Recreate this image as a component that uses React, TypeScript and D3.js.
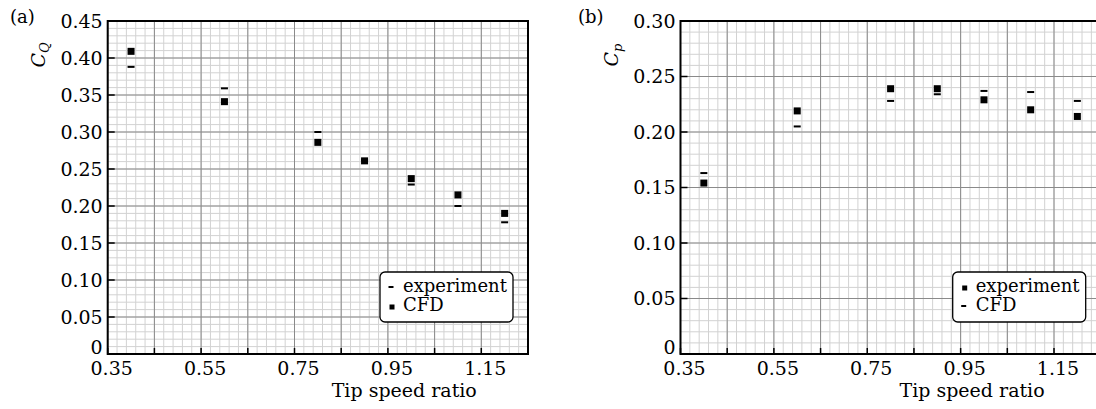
import React from 'react';
import * as d3 from 'd3';

// tip speed ratios shared by both panels
const tsr = [0.4, 0.6, 0.8, 0.9, 1.0, 1.1, 1.2];

// (a) torque coefficient
const cqExperiment = [0.388, 0.359, 0.300, 0.262, 0.229, 0.200, 0.178];
const cqCfd = [0.409, 0.341, 0.286, 0.261, 0.237, 0.215, 0.190];

// (b) power coefficient
const cpExperiment = [0.154, 0.219, 0.239, 0.239, 0.229, 0.220, 0.214];
const cpCfd = [0.163, 0.205, 0.228, 0.234, 0.237, 0.236, 0.228];

const xTickLabels = [0.35, 0.55, 0.75, 0.95, 1.15];

const FONT = '"DejaVu Serif", serif';

function Square({ cx, cy, s }) {
  return <rect x={cx - s / 2} y={cy - s / 2} width={s} height={s} fill="#000" />;
}

function Dash({ cx, cy, w }) {
  return <rect x={cx - w / 2} y={cy - 1} width={w} height={2} fill="#000" />;
}

function Panel(props) {
  const { left, right, top, bottom, yMax, tag, tagX, sub, titleX, squares, dashes, legend } = props;
  const x = d3.scaleLinear().domain([0.35, 1.25]).range([left, right]);
  const y = d3.scaleLinear().domain([0, yMax]).range([bottom, top]);

  const eps = 1e-9;
  const minorX = d3.range(0.35, 1.25 + eps, 0.02);
  const majorX = d3.range(0.35, 1.25 + eps, 0.1);
  const minorY = d3.range(0, yMax + eps, 0.01);
  const majorY = d3.range(0, yMax + eps, 0.05);

  const legRight = right - 15;
  const legLeft = legRight - 133;
  const legTop = bottom - 82;
  const legBottom = bottom - 32;

  return (
    <g fontFamily={FONT}>
      {minorX.map((v, i) => (
        <line key={'mx' + i} x1={x(v)} x2={x(v)} y1={top} y2={bottom} stroke="#d2d2d2" strokeWidth={1} />
      ))}
      {minorY.map((v, i) => (
        <line key={'my' + i} x1={left} x2={right} y1={y(v)} y2={y(v)} stroke="#d2d2d2" strokeWidth={1} />
      ))}
      {majorX.map((v, i) => (
        <line key={'Mx' + i} x1={x(v)} x2={x(v)} y1={top} y2={bottom} stroke="#8a8a8a" strokeWidth={1} />
      ))}
      {majorY.map((v, i) => (
        <line key={'My' + i} x1={left} x2={right} y1={y(v)} y2={y(v)} stroke="#8a8a8a" strokeWidth={1} />
      ))}

      {/* ticks */}
      {majorX.map((v, i) => (
        <line key={'tx' + i} x1={x(v)} x2={x(v)} y1={bottom} y2={bottom - 6} stroke="#000" strokeWidth={1.5} />
      ))}
      {majorY.map((v, i) => (
        <line key={'ty' + i} x1={left} x2={left + 7} y1={y(v)} y2={y(v)} stroke="#000" strokeWidth={1.5} />
      ))}

      <rect x={left} y={top} width={right - left} height={bottom - top} fill="none" stroke="#000" strokeWidth={2} />

      {/* tick labels */}
      {xTickLabels.map((v, i) => (
        <text key={'lx' + i} x={x(v) + 4} y={bottom + 21} fontSize={19} textAnchor="middle">
          {v.toFixed(2)}
        </text>
      ))}
      {majorY.map((v, i) => (
        <text key={'ly' + i} x={left - 5} y={v < eps ? y(v) - 7 : y(v)} dy="0.35em" fontSize={19} textAnchor="end">
          {v < eps ? '0' : v.toFixed(2)}
        </text>
      ))}

      <text x={left + titleX} y={bottom + 43} fontSize={19}>Tip speed ratio</text>

      <text transform={`translate(${left - 63},55) rotate(-90)`} textAnchor="middle" fontSize={19}>
        <tspan fontStyle="italic">C</tspan>
        <tspan fontStyle="italic" fontSize={13} dy={4}>{sub}</tspan>
      </text>

      <text x={tagX} y={23} fontSize={18}>{tag}</text>

      {/* data */}
      {tsr.map((t, i) => (
        <Dash key={'d' + i} cx={x(t)} cy={y(dashes[i])} w={7} />
      ))}
      {tsr.map((t, i) => (
        <Square key={'s' + i} cx={x(t)} cy={y(squares[i])} s={7} />
      ))}

      {/* legend */}
      <rect x={legLeft} y={legTop} width={legRight - legLeft} height={legBottom - legTop} rx={5} fill="#fff" stroke="#000" strokeWidth={1.3} />
      {legend.map((item, i) => {
        const cy = legTop + 15 + i * 19;
        return (
          <g key={'lg' + i}>
            {item.mark === 'dash'
              ? <Dash cx={legLeft + 11} cy={cy} w={5} />
              : <Square cx={legLeft + 12} cy={cy + 1} s={5} />}
            <text x={legLeft + 23} y={cy + 5} fontSize={18}>{item.label}</text>
          </g>
        );
      })}
    </g>
  );
}

export default function App() {
  return (
    <svg width={1096} height={409} style={{ position: 'absolute', left: 0, top: 0, background: '#fff' }}>
      <Panel
        left={107.7} right={528} top={21} bottom={354} yMax={0.45}
        tag="(a)" tagX={10} sub="Q" titleX={224}
        squares={cqCfd} dashes={cqExperiment}
        legend={[{ mark: 'dash', label: 'experiment' }, { mark: 'square', label: 'CFD' }]}
      />
      <Panel
        left={680.5} right={1100.7} top={21} bottom={354} yMax={0.30}
        tag="(b)" tagX={578} sub="p" titleX={219}
        squares={cpExperiment} dashes={cpCfd}
        legend={[{ mark: 'square', label: 'experiment' }, { mark: 'dash', label: 'CFD' }]}
      />
    </svg>
  );
}
